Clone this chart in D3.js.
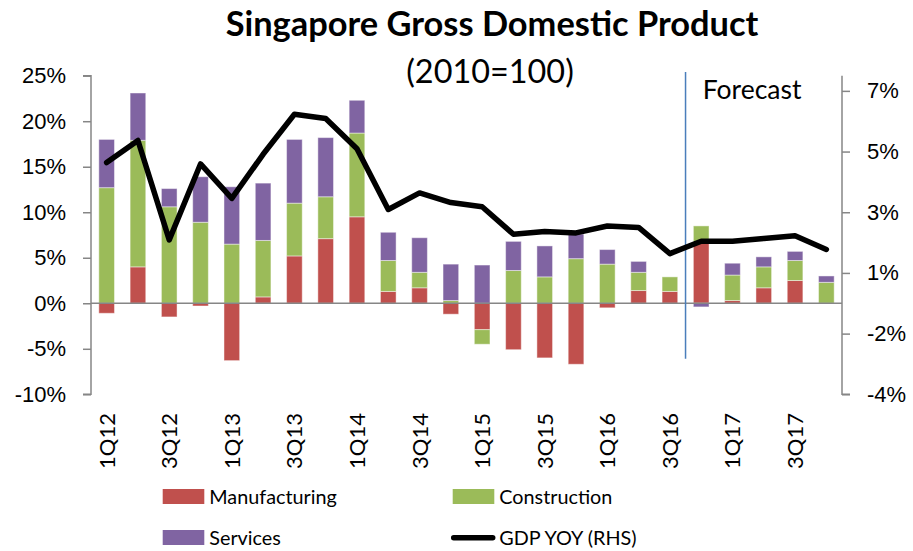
<!DOCTYPE html>
<html>
<head>
<meta charset="utf-8">
<script src="https://cdnjs.cloudflare.com/ajax/libs/d3/7.8.5/d3.min.js"></script>
<style>
  body { margin: 0; background: #fff; }
  svg { font-family: Lato, "Open Sans", sans-serif; }
  .axis path, .axis line { stroke: #868686; stroke-width: 1.5; }
  .axis text { fill: #000; font-size: 22px; }
</style>
</head>
<body>
<svg width="913" height="551"></svg>
<script>
const quarters = ["1Q12","2Q12","3Q12","4Q12","1Q13","2Q13","3Q13","4Q13","1Q14","2Q14","3Q14","4Q14",
  "1Q15","2Q15","3Q15","4Q15","1Q16","2Q16","3Q16","4Q16","1Q17","2Q17","3Q17","4Q17"];
const manufacturing = [-1.1, 4.0, -1.5, -0.3, -6.3, 0.7, 5.2, 7.1, 9.5, 1.3, 1.7, -1.2,
  -2.9, -5.1, -6.0, -6.7, -0.5, 1.4, 1.3, 6.8, 0.3, 1.7, 2.5, 0.0];
const construction = [12.7, 13.9, 10.6, 8.9, 6.5, 6.2, 5.8, 4.6, 9.2, 3.4, 1.7, 0.3,
  -1.6, 3.6, 2.9, 4.9, 4.3, 2.0, 1.6, 1.7, 2.8, 2.3, 2.2, 2.3];
const services = [5.3, 5.2, 2.0, 5.0, 6.3, 6.3, 7.0, 6.5, 3.6, 3.1, 3.8, 4.0,
  4.2, 3.2, 3.4, 2.7, 1.6, 1.2, 0.0, -0.4, 1.3, 1.1, 1.0, 0.7];
const gdpYoy = [4.6, 5.4, 1.8, 4.55, 3.3, 4.9, 6.35, 6.2, 5.1, 2.9, 3.5, 3.15,
  3.0, 2.0, 2.1, 2.05, 2.3, 2.25, 1.3, 1.75, 1.75, 1.85, 1.95, 1.45];
const leftTicks = [-10, -5, 0, 5, 10, 15, 20, 25];
const rightTicks = [-3.8, -1.6, 0.6, 2.8, 5.0, 7.2];
const seriesNames = ["Manufacturing", "Construction", "Services"];
const seriesColors = ["#C0504D", "#9BBB59", "#8064A2"];
const forecastStart = "4Q16";
const forecastSpan = [25.4, -6.1];

const svg = d3.select("svg");
const plot = {left: 91, right: 842, top: 75.7, bottom: 394.3};

const x = d3.scaleBand()
    .domain(quarters)
    .range([plot.left, plot.right])
    .paddingInner(0.5)
    .paddingOuter(0.25);

const y = d3.scaleLinear()
    .domain([-10, 25])
    .range([plot.bottom, plot.top]);

const y2 = d3.scaleLinear()
    .domain([-3.8, 7.75])
    .range([plot.bottom, plot.top]);

// title
svg.append("text")
    .attr("x", 492).attr("y", 36)
    .attr("text-anchor", "middle")
    .style("font-size", "34.4px").style("font-weight", "bold")
    .text("Singapore Gross Domestic Product");

svg.append("text")
    .attr("x", 490).attr("y", 82.7)
    .attr("text-anchor", "middle")
    .style("font-size", "32.4px")
    .text("(2010=100)");

// axes
svg.append("g")
    .attr("class", "axis")
    .attr("transform", `translate(${plot.left},0)`)
    .call(d3.axisLeft(y).tickValues(leftTicks).tickSize(8).tickPadding(17).tickFormat((d) => d + "%"))
    .call((g) => g.select(".domain").attr("d", `M-8,${plot.top}H0V${plot.bottom}H-8`));

svg.append("g")
    .attr("class", "axis")
    .attr("transform", `translate(${plot.right},0)`)
    .call(d3.axisRight(y2).tickValues(rightTicks).tickSize(8).tickPadding(17)
        .tickFormat((d) => Math.round(d) + "%"))
    .call((g) => g.select(".domain").attr("d", `M0,${plot.top}V${plot.bottom}H8`));

// bars
const table = quarters.map((q, i) => ({
    quarter: q,
    Manufacturing: manufacturing[i],
    Construction: construction[i],
    Services: services[i]
}));

const stacked = d3.stack()
    .keys(seriesNames)
    .offset(d3.stackOffsetDiverging)(table);

svg.append("g")
    .selectAll("g")
    .data(stacked)
    .join("g")
    .attr("fill", (d, i) => seriesColors[i])
    .selectAll("rect")
    .data((d) => d)
    .join("rect")
    .attr("x", (d) => x(d.data.quarter))
    .attr("width", x.bandwidth())
    .attr("y", (d) => y(Math.max(d[0], d[1])))
    .attr("height", (d) => Math.abs(y(d[0]) - y(d[1])))
    .attr("stroke", "#fff")
    .attr("stroke-opacity", 0.45)
    .attr("stroke-width", 1);

// zero line
svg.append("line")
    .attr("x1", plot.left).attr("x2", plot.right)
    .attr("y1", y(0)).attr("y2", y(0))
    .attr("stroke", "#868686").attr("stroke-width", 1.5);

// x labels
svg.append("g")
    .selectAll("text")
    .data(quarters.filter((q, i) => i % 2 === 0))
    .join("text")
    .attr("transform", (d) => `translate(${x(d) + x.bandwidth() / 2 + 8},413) rotate(-90)`)
    .attr("text-anchor", "end")
    .style("font-size", "22px")
    .text((d) => d);

// forecast marker
const fx = x(forecastStart) - x.step() * x.paddingInner() / 2;
svg.append("line")
    .attr("x1", fx).attr("x2", fx)
    .attr("y1", y(forecastSpan[0])).attr("y2", y(forecastSpan[1]))
    .attr("stroke", "#4A7EBB").attr("stroke-width", 1.5);

svg.append("text")
    .attr("x", 702.7).attr("y", 99.3)
    .style("font-size", "26.5px")
    .text("Forecast");

// GDP line
const line = d3.line()
    .x((d, i) => x(quarters[i]) + x.bandwidth() / 2)
    .y((d) => y2(d));

svg.append("path")
    .datum(gdpYoy)
    .attr("fill", "none")
    .attr("stroke", "#000")
    .attr("stroke-width", 5.5)
    .attr("stroke-linejoin", "round")
    .attr("stroke-linecap", "round")
    .attr("d", line);

// legend
const legendItems = [
    {name: "Manufacturing", color: seriesColors[0], type: "rect", lx: 162.7, ly: 489},
    {name: "Construction", color: seriesColors[1], type: "rect", lx: 452.7, ly: 489},
    {name: "Services", color: seriesColors[2], type: "rect", lx: 162.7, ly: 530},
    {name: "GDP YOY (RHS)", color: "#000", type: "line", lx: 452.7, ly: 530}
];

const legend = svg.append("g")
    .selectAll("g")
    .data(legendItems)
    .join("g")
    .attr("transform", (d) => `translate(${d.lx},${d.ly})`);

legend.filter((d) => d.type === "rect")
    .append("rect")
    .attr("width", 41.6).attr("height", 15)
    .attr("fill", (d) => d.color);

legend.filter((d) => d.type === "line")
    .append("line")
    .attr("x1", 1).attr("x2", 40).attr("y1", 7.7).attr("y2", 7.7)
    .attr("stroke", "#000").attr("stroke-width", 5.5).attr("stroke-linecap", "round");

legend.append("text")
    .attr("x", 46.6).attr("y", 15.3)
    .style("font-size", "19.8px")
    .text((d) => d.name);
</script>
</body>
</html>
